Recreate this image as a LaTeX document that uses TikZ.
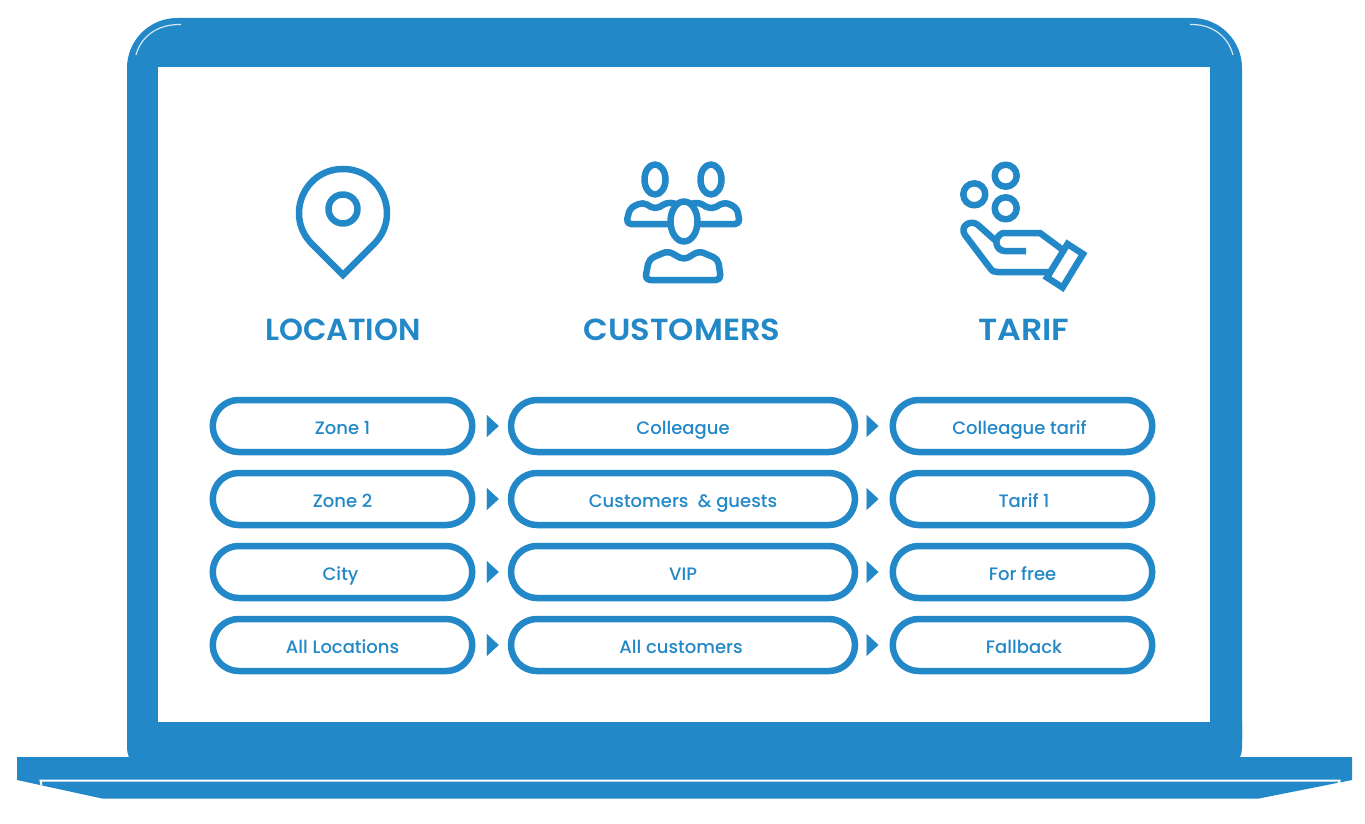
\documentclass[tikz,border=0pt]{standalone}
\usepackage{fontspec}
\setmainfont{Poppins Medium}
\newfontfamily\headfont{Poppins SemiBold}
\newfontfamily\headfontb[FakeStretch=1.054]{Poppins SemiBold}
\newfontfamily\headfontc[FakeStretch=1.09]{Poppins SemiBold}
\usetikzlibrary{arrows.meta}
\definecolor{lapblue}{HTML}{2388C7}
\tikzset{
  pill/.style={draw=lapblue,line width=6.5pt,fill=white,rounded corners=26pt,minimum height=52pt,text=lapblue,
    font=\fontsize{18}{20}\selectfont,text height=17pt,text depth=0pt,inner sep=0pt},
  pilla/.style={pill,minimum width=259.5pt},
  pillb/.style={pill,minimum width=344pt},
  head/.style={text=lapblue,anchor=base,inner sep=0pt},
  icon/.style={draw=lapblue,line width=6.5pt,line join=round},
  conna/.style={draw=lapblue,line width=.1pt,yshift=-1pt,-{Triangle[length=12pt,width=22pt]},shorten <=12pt,shorten >=9pt},
  connb/.style={draw=lapblue,line width=.1pt,yshift=-1pt,-{Triangle[length=12pt,width=22pt]},shorten <=9pt,shorten >=11pt},
  gleam/.style={draw=white!80!lapblue,line width=1.2pt}
}
\begin{document}
\begin{tikzpicture}[x=1pt,y=-1pt]
\useasboundingbox (0,0) rectangle (1365,824);
\fill[white] (0,0) rectangle (1365,824);
% laptop
\fill[lapblue,rounded corners=50pt] (127,18) rectangle (1242,790);
\fill[white] (0,763) rectangle (1365,824);
\fill[lapblue,rounded corners=22pt] (127,700) rectangle (1242,770);
\fill[lapblue] (17,757) -- (1352,757) -- (1352,780) -- (1259,798.5) -- (102,798.5) -- (17,780) -- cycle;
\fill[white] (158,67) rectangle (1210,722);
\draw[draw=white,line width=2pt] (41.5,785) -- (40.5,780.5) -- (1339.5,780.5) -- (1338.5,785);
\draw[gleam] (136,55) .. controls (141,36) and (158,24) .. (181,24.5);
\draw[gleam] (1233,55) .. controls (1228,36) and (1212,24) .. (1190,24.5);
% pin icon
\draw[icon,line join=miter] (343,275) -- (312,244) .. controls (284.3,216.3) and (303.8,169) .. (343,169)
   .. controls (382.2,169) and (401.7,216.3) .. (374,244) -- cycle;
\draw[icon] (343,209) circle[radius=14.5];
% customers icon
\draw[icon,rounded corners=5pt] (672,224) -- (626,224) -- (630,208) -- (643,202) -- (655,209.5) -- (668,202) -- (684,206);
\draw[icon,rounded corners=5pt] (696,224) -- (740,224) -- (737,208) -- (725,202) -- (711,209.5) -- (698,202) -- (684,206);
\draw[icon] (655,179.5) ellipse[x radius=10.5,y radius=15];
\draw[icon] (711,179.5) ellipse[x radius=10.5,y radius=15];
\draw[icon,fill=white] (684,221.5) ellipse[x radius=13.5,y radius=20];
\draw[icon,rounded corners=5pt] (645,280) -- (649,259) -- (668,251) -- (684,260) -- (699,251) -- (718,259) -- (721,280) -- cycle;
% tarif icon
\draw[icon] (1005.7,175.7) circle[radius=11];
\draw[icon] (974.3,194.3) circle[radius=11];
\draw[icon] (1005.7,208.3) circle[radius=11];
\draw[icon,line cap=butt] (1026,251) -- (1005,251) .. controls (996,251) and (993,239) .. (1001,234)
   .. controls (1002,233) and (1003,233) .. (1005,233) -- (1040,233) -- (1063,250);
\draw[icon] (996,241) -- (978,225) .. controls (971,219) and (959,226) .. (965,235)
   -- (990,268) .. controls (992,271) and (994,272) .. (997,272) -- (1050,272);
\draw[icon,line join=miter] (1067.5,244) -- (1083,254) -- (1062.5,287.5) -- (1047,277.5) -- cycle;
% headings
\node[head,font=\headfont\fontsize{30.5}{32}\selectfont] (hloc) at (343,340.5) {LOCATION};
\node[head,font=\headfontb\fontsize{30.5}{32}\selectfont] (hcus) at (682,340.5) {CUSTOMERS};
\node[head,font=\headfontc\fontsize{30.5}{32}\selectfont] (htar) at (1024,340.5) {TARIF};
% pills
\node[pilla] (l1) at (342.5,426) {Zone 1};
\node[pilla] (l2) at (342.5,499) {Zone 2};
\node[pilla] (l3) at (342.5,572) {City\hspace*{4pt}};
\node[pilla] (l4) at (342.5,645) {All Locations};
\node[pillb] (c1) at (683,426) {Colleague};
\node[pillb] (c2) at (683,499) {Customers \ \& guests};
\node[pillb] (c3) at (683,572) {VIP};
\node[pillb] (c4) at (683,645) {All customers\hspace*{4pt}};
\node[pilla] (t1) at (1022.5,426) {Colleague tarif\hspace*{6pt}};
\node[pilla] (t2) at (1022.5,499) {\hspace*{3pt}Tarif 1};
\node[pilla] (t3) at (1022.5,572) {For free};
\node[pilla] (t4) at (1022.5,645) {\hspace*{3pt}Fallback};
% connectors
\foreach \i in {1,2,3,4} {
  \draw[conna] (l\i.east) -- (c\i.west);
  \draw[connb] (c\i.east) -- (t\i.west);
}
\end{tikzpicture}
\end{document}
